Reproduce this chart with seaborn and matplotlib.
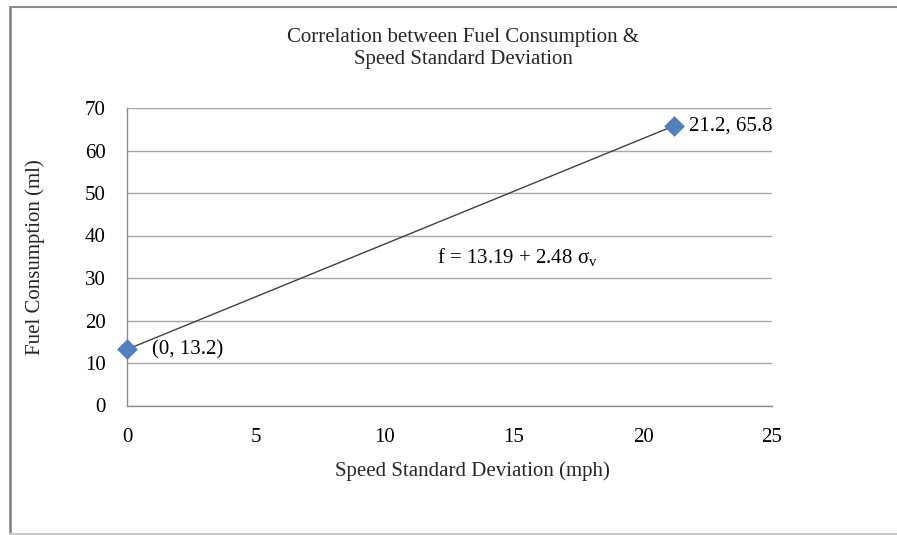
import matplotlib
matplotlib.use("Agg")
import matplotlib.pyplot as plt
from matplotlib.lines import Line2D
import seaborn as sns
import pandas as pd

# ---- data ----
sigma_v = [0.0, 21.2]
fuel = [13.2, 65.8]
point_labels = ["(0, 13.2)", "21.2, 65.8"]
label_offsets_pt = [18, 11]
x_ticks = [0, 5, 10, 15, 20, 25]
y_ticks = [0, 10, 20, 30, 40, 50, 60, 70]
title_text = "Correlation between Fuel Consumption &\nSpeed Standard Deviation"
x_label = "Speed Standard Deviation (mph)"
y_label = "Fuel Consumption (ml)"
equation = r"f = 13.19 + 2.48 σ$_{\mathregular{v}}$"
equation_pos = (12.0, 35.0)

df = pd.DataFrame({"sigma": sigma_v, "fuel": fuel})

sns.set_theme(style="white")
plt.rcParams["font.family"] = ["Liberation Serif", "DejaVu Serif"]
plt.rcParams["mathtext.fontset"] = "custom"
plt.rcParams["mathtext.rm"] = "Liberation Serif"
plt.rcParams["mathtext.it"] = "Liberation Serif:italic"

FS = 15

fig = plt.figure(figsize=(8.97, 5.35), dpi=100)
ax = fig.add_axes([127 / 897, 1 - 405.5 / 535, (772 - 127) / 897, (405.5 - 108) / 535])

grid_c = "#a6a6a6"
ax.set_xlim(0, 25)
ax.set_ylim(0, 70)
ax.set_xticks(x_ticks)
ax.set_yticks(y_ticks)
ax.yaxis.grid(True, color=grid_c, lw=1.0)
ax.xaxis.grid(False)
ax.set_axisbelow(True)
for s in ["top", "right"]:
    ax.spines[s].set_visible(False)
for s in ["left", "bottom"]:
    ax.spines[s].set_color("#8c8c8c")
    ax.spines[s].set_linewidth(1.0)
ax.tick_params(axis="both", which="both", direction="out", color="#8c8c8c",
               labelsize=FS, labelcolor="#000000")
ax.tick_params(axis="y", length=6.5, width=1.0, pad=9)
ax.tick_params(axis="x", length=6, width=1.0, pad=10)

sns.lineplot(data=df, x="sigma", y="fuel", ax=ax, color="#404040", lw=1.0,
             legend=False, zorder=3)
sns.scatterplot(data=df, x="sigma", y="fuel", ax=ax, marker="D", s=100,
                color="#4F81BD", edgecolor="#4A7EBB", linewidth=0.5,
                legend=False, zorder=4, clip_on=False)

for xv, yv, lab, off in zip(sigma_v, fuel, point_labels, label_offsets_pt):
    ax.annotate(lab, (xv, yv), xytext=(off, 0), textcoords="offset points",
                ha="left", va="center", fontsize=FS, color="black")

ax.text(equation_pos[0], equation_pos[1], equation, ha="left", va="center",
        fontsize=FS, color="black")

ax.set_xlabel("")
ax.set_ylabel("")
fig.text(472 / 897, 1 - 471 / 535, x_label, ha="center", va="center", fontsize=FS)
fig.text(35 / 897, 1 - 257 / 535, y_label, ha="center", va="center",
         rotation=90, fontsize=FS)
fig.text(463 / 897, 1 - 48.5 / 535, title_text, ha="center", va="center",
         fontsize=FS, linespacing=1.2)

# outer chart frame
fig.add_artist(Line2D([9.5 / 897, 9.5 / 897], [1 - 6.5 / 535, 1 - 534 / 535],
                      transform=fig.transFigure, color="#7f7f7f", lw=1.8))
fig.add_artist(Line2D([9.5 / 897, 1.0], [1 - 6.5 / 535, 1 - 6.5 / 535],
                      transform=fig.transFigure, color="#8c8c8c", lw=1.5))
fig.add_artist(Line2D([9.5 / 897, 1.0], [1 - 534 / 535, 1 - 534 / 535],
                      transform=fig.transFigure, color="#c8c8c8", lw=1.5))

fig.savefig("out.png", dpi=100, facecolor="white")
